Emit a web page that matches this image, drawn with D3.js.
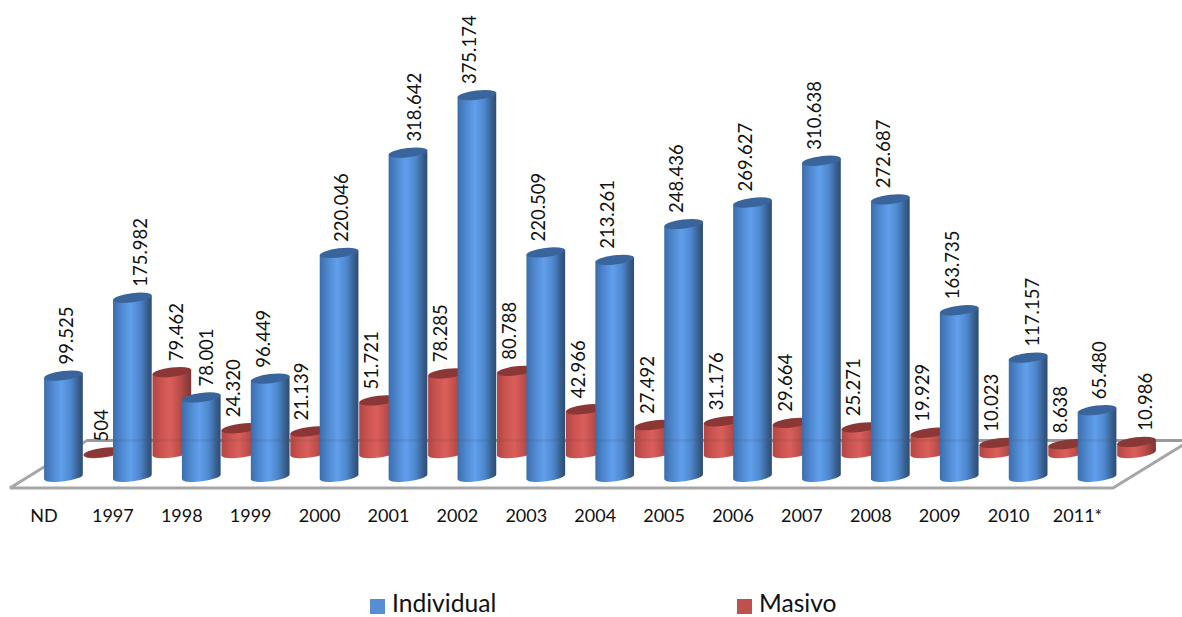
<!DOCTYPE html>
<html>
<head>
<meta charset="utf-8">
<script src="https://cdn.jsdelivr.net/npm/d3@7"></script>
<style>
  html, body { margin: 0; padding: 0; background: #fff; }
  svg { display: block; }
  text { font-family: Lato, "Open Sans", sans-serif; fill: #111; }
</style>
</head>
<body>
<div id="chart"></div>
<script>
const categories = ["ND", "1997", "1998", "1999", "2000", "2001", "2002", "2003", "2004", "2005", "2006", "2007", "2008", "2009", "2010", "2011*"]
const individual = [99525, 175982, 78001, 96449, 220046, 318642, 375174, 220509, 213261, 248436, 269627, 310638, 272687, 163735, 117157, 65480]
const masivo = [504, 79462, 24320, 21139, 51721, 78285, 80788, 42966, 27492, 31176, 29664, 25271, 19929, 10023, 8638, 10986]
const seriesNames = ["Individual", "Masivo"]

// etiquetas movidas a mano en el grafico original
const nudgeIndividual = [10, 15, 12, 0, 9, 14, 0, 0, 0, 0, 0, 0, 0, 0, 11, 9]
const nudgeMasivo = [6, 12, 0, -1, 0, 0, 0, 0, 0, 0, 0, 0, 0, 0, 0, 16]

const width = 1182
const height = 617
const rx = 19.5, ry = 4.6, tilt = -7
const rad = tilt * Math.PI / 180

const svg = d3.select("div#chart").append("svg").attr("width", width).attr("height", height)
const defs = svg.append("defs")

function gradient(id, stops) {
    const g = defs.append("linearGradient").attr("id", id)
    stops.forEach(s => g.append("stop").attr("offset", s[0]).attr("stop-color", s[1]))
}
gradient("blueBar", [[0, "#3c6dab"], [0.2, "#4d86cd"], [0.45, "#619fec"], [0.7, "#4d86cc"], [0.88, "#38608f"], [1, "#2c4b75"]])
gradient("redBar", [[0, "#b04643"], [0.2, "#c9524f"], [0.45, "#da5f5b"], [0.7, "#bd4d4a"], [0.88, "#94403d"], [1, "#7d3533"]])

const x = d3.scaleBand().domain(categories).range([9.5, 1112])
const y = d3.scaleLinear().domain([0, 375174]).range([0, 381.7])
const fmt = d3.formatLocale({ decimal: ",", thousands: ".", grouping: [3], currency: ["", ""] }).format(",d")

// piso 3D
svg.append("path")
    .attr("d", "M10,488 L87,440.5 L1190,440.5 L1113,488 Z")
    .attr("fill", "#fff")
    .attr("stroke", "#a6a6a6")
    .attr("stroke-width", 3)
    .attr("stroke-linejoin", "bevel")

function cylinder(group, cx, base, h, fill, top) {
    const dx = rx * Math.cos(rad), dy = rx * Math.sin(rad)
    const yTop = base - h
    group.append("path")
        .attr("d", `M${cx - dx},${yTop - dy} L${cx - dx},${base - dy} A${rx},${ry} ${tilt} 0 0 ${cx + dx},${base + dy} L${cx + dx},${yTop + dy} Z`)
        .attr("fill", `url(#${fill})`)
    group.append("ellipse")
        .attr("transform", `translate(${cx},${yTop}) rotate(${tilt})`)
        .attr("rx", rx).attr("ry", ry)
        .attr("fill", top)
}

const redGroup = svg.append("g").attr("class", "masivo")
const blueGroup = svg.append("g").attr("class", "individual")
const floorShade = svg.append("line")
    .attr("x1", 87).attr("x2", width).attr("y1", 440.5).attr("y2", 440.5)
    .attr("stroke", "#555").attr("stroke-width", 3).attr("stroke-opacity", 0.15)
const labelGroup = svg.append("g").attr("class", "labels")

function label(cx, yTop, v) {
    labelGroup.append("text")
        .attr("transform", `translate(${cx},${yTop - 11}) rotate(-90)`)
        .attr("font-size", 18.5)
        .text(fmt(v))
}

categories.forEach((c, i) => {
    const left = x(c) + x.bandwidth() / 2
    const cxBlue = left + 19.5
    const cxRed = left + 59
    cylinder(redGroup, cxRed, 453, y(masivo[i]), "redBar", "#8b3735")
    cylinder(blueGroup, cxBlue, 476.8, y(individual[i]), "blueBar", "#3a659c")
    label(cxRed - 0.5 + nudgeMasivo[i], 453 - y(masivo[i]), masivo[i])
    label(cxBlue - 0.5 + nudgeIndividual[i], 476.8 - y(individual[i]), individual[i])
})

// eje de categorias
const xAxis = d3.axisBottom(x).tickSize(0).tickPadding(0)
const xAxisGroup = svg.append("g").attr("transform", "translate(0,509)").call(xAxis)
xAxisGroup.select(".domain").remove()
xAxisGroup.selectAll("text").attr("font-size", 18).attr("font-family", "Lato").attr("fill", "#111")

// leyenda
const legendX = [370, 737]
const legendColor = ["#558ed5", "#c0504d"]
seriesNames.forEach((s, i) => {
    svg.append("rect").attr("x", legendX[i]).attr("y", 599).attr("width", 15).attr("height", 15).attr("fill", legendColor[i])
    svg.append("text").attr("x", legendX[i] + 22).attr("y", 612).attr("font-size", 24.6).text(s)
})
</script>
</body>
</html>
